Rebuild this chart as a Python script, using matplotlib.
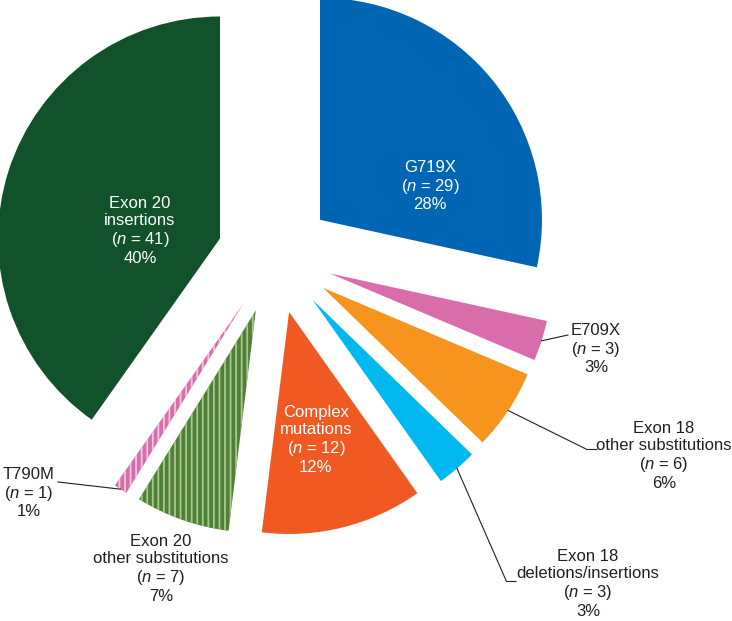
import numpy as np
import matplotlib
matplotlib.use("Agg")
import matplotlib.pyplot as plt

plt.rcParams['font.family'] = ['Liberation Sans', 'DejaVu Sans']
plt.rcParams['mathtext.fontset'] = 'custom'
plt.rcParams['mathtext.rm'] = 'Liberation Sans'
plt.rcParams['mathtext.it'] = 'Liberation Sans:italic'
plt.rcParams['hatch.linewidth'] = 1.3

# data, clockwise from 12 o'clock
names = ['G719X', 'E709X', 'Exon 18\nother substitutions',
         'Exon 18\ndeletions/insertions', 'Complex\nmutations',
         'Exon 20\nother substitutions', 'T790M', 'Exon 20\ninsertions']
counts = [29, 3, 6, 3, 12, 7, 1, 41]
colors = ['#0066b3', '#d96dab', '#f7941d', '#00b8f0', '#f05a22',
          '#4e8035', '#d96dab', '#11522b']
hatches = [None, None, None, None, None, '|||', '|||', None]
stripe_colors = [None, None, None, None, None, '#a9c890', '#f4c8e0', None]

W, H = 732, 621
CX, CY, R = 275, 256, 222   # pie centre / radius in pixels


def px(x, y):
    # pixel position (from top left) -> data coords
    return (x - CX) / R, (CY - y) / R


fig = plt.figure(figsize=(W / 100, H / 100), dpi=100)
ax = fig.add_axes([0, 0, 1, 1])

wedges, _ = ax.pie(counts, colors=colors, startangle=90, counterclock=False,
                   explode=[0.26] * len(counts), radius=1,
                   wedgeprops=dict(linewidth=0))
for w, h, sc in zip(wedges, hatches, stripe_colors):
    if h:
        w.set_hatch(h)
        w.set_edgecolor(sc)
        w.set_linewidth(0)

total = sum(counts)
labels = []
for name, c in zip(names, counts):
    labels.append(f"{name}\n($\\mathit{{n}}$ = {c})\n{round(100 * c / total)}%")

# label centres in pixels, text colour
label_pos = [(430, 186, 'white'), (596, 349, '#231f20'), (664, 456, '#231f20'),
             (588, 584, '#231f20'), (316, 440, 'white'), (161, 569, '#231f20'),
             (29, 493, '#231f20'), (140, 231, 'white')]
for lab, (x, y, col) in zip(labels, label_pos):
    tx, ty = px(x, y)
    ax.text(tx, ty, lab, ha='center', va='center', color=col, fontsize=12,
            linespacing=1.15)


def arc_mid(w):
    t = np.deg2rad((w.theta1 + w.theta2) / 2)
    return w.center[0] + w.r * np.cos(t), w.center[1] + w.r * np.sin(t)


# leader lines: wedge index -> list of pixel points after the arc midpoint
leaders = {1: [(568, 335)],
           2: [(587, 449.5), (597, 449.5)],
           3: [(506.5, 581.5), (516, 581.5)],
           6: [(58, 482)]}
for i, pts in leaders.items():
    x0, y0 = arc_mid(wedges[i])
    xs = [x0] + [px(*p)[0] for p in pts]
    ys = [y0] + [px(*p)[1] for p in pts]
    ax.plot(xs, ys, color='#231f20', lw=0.8)

ax.set_xlim(px(0, 0)[0], px(W, 0)[0])
ax.set_ylim(px(0, H)[1], px(0, 0)[1])
ax.set_aspect('auto')
ax.axis('off')

fig.savefig('out.png', dpi=100)
